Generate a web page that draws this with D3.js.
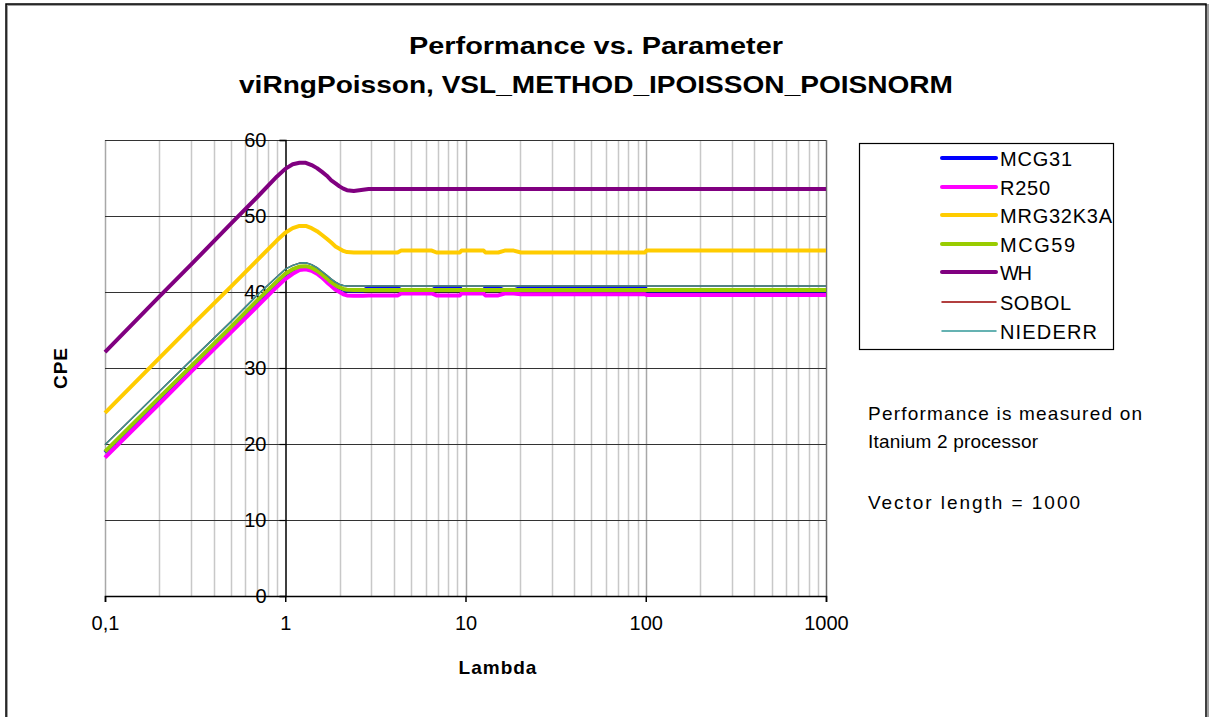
<!DOCTYPE html>
<html>
<head>
<meta charset="utf-8">
<script src="https://cdn.jsdelivr.net/npm/d3@7"></script>
<style>
  html, body { margin: 0; padding: 0; background: #fff; }
  svg { display: block; }
  text { font-family: "Liberation Sans", Arial, sans-serif; fill: #000; }
</style>
</head>
<body>
<svg id="chart" width="1212" height="717"></svg>
<script>
// ---------------- data ----------------
const titleLines = ["Performance vs. Parameter", "viRngPoisson, VSL_METHOD_IPOISSON_POISNORM"];
const xTitle = "Lambda";
const yTitle = "CPE";
const noteLines = ["Performance is measured on", "Itanium 2 processor", "", "Vector length = 1000"];

const xTicks = [0.1, 1, 10, 100, 1000];
const xTickLabels = ["0,1", "1", "10", "100", "1000"];
const yTicks = [0, 10, 20, 30, 40, 50, 60];
const yTickLabels = ["0", "10", "20", "30", "40", "50", "60"];

const seriesNames = ["MCG31", "R250", "MRG32K3A", "MCG59", "WH", "SOBOL", "NIEDERR"];

const lambda = [0.1, 0.2, 0.3, 0.5, 0.7, 0.9,
  1.0, 1.1, 1.2, 1.3, 1.4, 1.5, 1.6, 1.7, 1.8, 1.9, 2.0, 2.1, 2.2,
  2.4, 2.7, 2.9, 3.4, 4.2, 4.4, 6.5, 6.9, 9.3, 9.5, 12.6, 12.9, 15.2, 16.5, 18.5, 20.3,
  26, 29, 40, 60, 83, 88, 99, 101, 150, 200, 300, 500, 700, 1000];

const mcg31 = [18.9, 26.0, 30.1, 35.3, 38.8, 41.3,
  42.3, 42.9, 43.25, 43.3, 43.1, 42.7, 42.2, 41.7, 41.2, 40.8, 40.5, 40.3, 40.2,
  40.2, 40.2, 40.55, 40.55, 40.55, 40.2, 40.2, 40.55, 40.55, 40.2, 40.2, 40.55, 40.55, 40.2, 40.2, 40.55,
  40.55, 40.55, 40.55, 40.55, 40.55, 40.55, 40.55, 40.2, 40.2, 40.2, 40.2, 40.2, 40.2, 40.2];

const r250 = [18.2, 25.3, 29.5, 34.7, 38.1, 40.7,
  41.7, 42.4, 42.9, 43.0, 42.8, 42.4, 41.9, 41.3, 40.8, 40.3, 40.0, 39.7, 39.55,
  39.5, 39.5, 39.55, 39.55, 39.55, 39.8, 39.8, 39.55, 39.55, 39.8, 39.8, 39.55, 39.55, 39.8, 39.8, 39.7,
  39.7, 39.7, 39.7, 39.7, 39.7, 39.7, 39.7, 39.6, 39.6, 39.6, 39.6, 39.6, 39.6, 39.6];

const mrg32k3a = [24.1, 31.3, 35.5, 40.7, 44.2, 46.8,
  47.8, 48.4, 48.7, 48.7, 48.4, 48.0, 47.5, 47.0, 46.5, 46.0, 45.7, 45.4, 45.25,
  45.2, 45.2, 45.2, 45.2, 45.2, 45.45, 45.45, 45.2, 45.2, 45.45, 45.45, 45.2, 45.2, 45.45, 45.45, 45.2,
  45.2, 45.2, 45.2, 45.2, 45.2, 45.2, 45.2, 45.45, 45.45, 45.45, 45.45, 45.45, 45.45, 45.45];

const mcg59 = [19.0, 26.1, 30.2, 35.4, 38.9, 41.4,
  42.4, 43.0, 43.35, 43.4, 43.2, 42.8, 42.3, 41.8, 41.3, 40.9, 40.6, 40.4, 40.3,
  40.25, 40.25, 40.25, 40.25, 40.25, 40.25, 40.25, 40.25, 40.25, 40.25, 40.25, 40.25, 40.25, 40.25, 40.25, 40.25,
  40.25, 40.25, 40.25, 40.25, 40.25, 40.25, 40.25, 40.25, 40.25, 40.25, 40.25, 40.25, 40.25, 40.25];

const wh = [32.1, 39.4, 43.6, 49.0, 52.5, 55.2,
  56.2, 56.8, 57.0, 57.0, 56.7, 56.3, 55.8, 55.3, 54.7, 54.3, 53.9, 53.6, 53.4,
  53.3, 53.45, 53.55, 53.55, 53.55, 53.55, 53.55, 53.55, 53.55, 53.55, 53.55, 53.55, 53.55, 53.55, 53.55, 53.55,
  53.55, 53.55, 53.55, 53.55, 53.55, 53.55, 53.55, 53.55, 53.55, 53.55, 53.55, 53.55, 53.55, 53.55];

const sobol = [19.9, 26.9, 31.0, 36.1, 39.6, 42.0,
  43.0, 43.5, 43.8, 43.85, 43.6, 43.2, 42.7, 42.2, 41.7, 41.3, 41.0, 40.85, 40.8,
  40.8, 40.8, 40.8, 40.8, 40.8, 40.8, 40.8, 40.8, 40.8, 40.8, 40.8, 40.8, 40.8, 40.8, 40.8, 40.8,
  40.8, 40.8, 40.8, 40.8, 40.8, 40.8, 40.8, 40.8, 40.8, 40.8, 40.8, 40.8, 40.8, 40.8];

const niederr = [19.9, 26.9, 31.0, 36.1, 39.6, 42.0,
  43.0, 43.5, 43.8, 43.85, 43.6, 43.2, 42.7, 42.2, 41.7, 41.3, 41.0, 40.85, 40.8,
  40.8, 40.8, 40.8, 40.8, 40.8, 40.8, 40.8, 40.8, 40.8, 40.8, 40.8, 40.8, 40.8, 40.8, 40.8, 40.8,
  40.8, 40.8, 40.8, 40.8, 40.8, 40.8, 40.8, 40.8, 40.8, 40.8, 40.8, 40.8, 40.8, 40.8];

const seriesValues = [mcg31, r250, mrg32k3a, mcg59, wh, sobol, niederr];
const seriesColors = ["#0000ff", "#ff00ff", "#ffcc00", "#99cc00", "#800080", "#990000", "#339999"];
const seriesWidths = [4, 4, 4, 4, 4, 1.5, 1.5];

// ---------------- layout ----------------
const svg = d3.select("#chart");
const plot = { left: 105, right: 826, top: 140, bottom: 596 };

const x = d3.scaleLog().domain([0.1, 1000]).range([plot.left, plot.right]);
const y = d3.scaleLinear().domain([0, 60]).range([plot.bottom, plot.top]);

// outer frame
svg.append("rect").attr("x", 7).attr("y", 5).attr("width", 1201).attr("height", 720)
  .attr("fill", "none").attr("stroke", "#a0a0a0").attr("stroke-width", 2);
svg.append("rect").attr("x", 6).attr("y", 4).attr("width", 1200).attr("height", 720)
  .attr("fill", "none").attr("stroke", "#000").attr("stroke-width", 1.5);

// title
const titleY = [54, 93];
titleLines.forEach((t, i) => {
  svg.append("text")
    .attr("x", 596).attr("y", titleY[i])
    .attr("text-anchor", "middle")
    .attr("font-size", 23).attr("font-weight", "bold")
    .attr("textLength", i === 0 ? 374 : 714)
    .attr("lengthAdjust", "spacingAndGlyphs")
    .text(t);
});

// minor vertical grid
const minorX = [];
for (let d = -1; d < 3; d++) {
  for (let k = 2; k <= 9; k++) minorX.push(k * Math.pow(10, d));
}
svg.append("g").selectAll("line").data(minorX).join("line")
  .attr("x1", d => Math.round(x(d)) + 0.5).attr("x2", d => Math.round(x(d)) + 0.5)
  .attr("y1", plot.top).attr("y2", plot.bottom)
  .attr("stroke", "#c8c8c8").attr("stroke-width", 1.5);

// major vertical grid (decades)
svg.append("g").selectAll("line").data([0.1, 10, 100, 1000]).join("line")
  .attr("x1", d => Math.round(x(d)) + 0.5).attr("x2", d => Math.round(x(d)) + 0.5)
  .attr("y1", plot.top).attr("y2", plot.bottom)
  .attr("stroke", d => (d === 1000 ? "#707070" : "#a8a8a8")).attr("stroke-width", 1.5);

// horizontal grid
svg.append("g").selectAll("line").data(yTicks.filter(v => v > 0)).join("line")
  .attr("x1", plot.left).attr("x2", plot.right)
  .attr("y1", d => Math.round(y(d)) + 0.5).attr("y2", d => Math.round(y(d)) + 0.5)
  .attr("stroke", "#333").attr("stroke-width", 1.2);

// x axis
const xAxis = d3.axisBottom(x).tickValues(xTicks)
  .tickFormat((d, i) => xTickLabels[i]).tickSize(6).tickPadding(14);
const gx = svg.append("g").attr("transform", `translate(0,${plot.bottom})`).call(xAxis);
gx.select(".domain").attr("stroke", "#000").attr("stroke-width", 1.5);
gx.selectAll(".tick line").attr("stroke", "#000").attr("stroke-width", 1.5);
gx.selectAll(".tick text").attr("font-size", 20).attr("font-family", "Liberation Sans, Arial, sans-serif").attr("fill", "#000");

// y axis crossing at lambda = 1
const yAxis = d3.axisLeft(y).tickValues(yTicks)
  .tickFormat((d, i) => yTickLabels[i]).tickSize(6).tickPadding(13);
const gy = svg.append("g").attr("transform", `translate(${Math.round(x(1)) + 0.5},0)`).call(yAxis);
gy.select(".domain").attr("stroke", "#000").attr("stroke-width", 1.5);
gy.selectAll(".tick line").attr("stroke", "#000").attr("stroke-width", 1.2);
gy.selectAll(".tick text").attr("font-size", 20).attr("font-family", "Liberation Sans, Arial, sans-serif").attr("fill", "#000");

// series lines
const line = d3.line().x((d, i) => x(lambda[i])).y(d => y(d)).curve(d3.curveLinear);
const gLines = svg.append("g");
seriesValues.forEach((vals, s) => {
  gLines.append("path")
    .datum(vals)
    .attr("d", line)
    .attr("fill", "none")
    .attr("stroke", seriesColors[s])
    .attr("stroke-width", seriesWidths[s])
    .attr("stroke-linejoin", "round")
    .attr("stroke-linecap", "butt");
});

// axis titles
svg.append("text").attr("x", 498).attr("y", 674)
  .attr("text-anchor", "middle").attr("font-size", 19).attr("font-weight", "bold")
  .attr("letter-spacing", 1).text(xTitle);
svg.append("text").attr("transform", "translate(67,368) rotate(-90)")
  .attr("text-anchor", "middle").attr("font-size", 19).attr("font-weight", "bold")
  .attr("letter-spacing", 1).text(yTitle);

// legend
const lg = svg.append("g");
lg.append("rect").attr("x", 859.5).attr("y", 143.5).attr("width", 254).attr("height", 206)
  .attr("fill", "#fff").attr("stroke", "#000").attr("stroke-width", 1.2);
const legendY = [158, 187, 215, 244, 272, 302, 331];
const legendTextW = [72, 50, 112, 75, 32, 71, 97];
seriesNames.forEach((n, i) => {
  lg.append("line").attr("x1", 942).attr("x2", 996)
    .attr("y1", legendY[i]).attr("y2", legendY[i])
    .attr("stroke", seriesColors[i]).attr("stroke-width", seriesWidths[i])
    .attr("stroke-linecap", "round");
  lg.append("text").attr("x", 1000).attr("y", legendY[i] + 7.5)
    .attr("font-size", 20)
    .attr("textLength", legendTextW[i]).attr("lengthAdjust", "spacing")
    .text(n);
});

// note text
const noteY = [420, 448, 476, 509];
const noteW = [274, 170, 0, 212];
noteLines.forEach((t, i) => {
  if (!t) return;
  svg.append("text").attr("x", 868).attr("y", noteY[i])
    .attr("font-size", 19)
    .attr("textLength", noteW[i]).attr("lengthAdjust", "spacing")
    .text(t);
});
</script>
</body>
</html>
